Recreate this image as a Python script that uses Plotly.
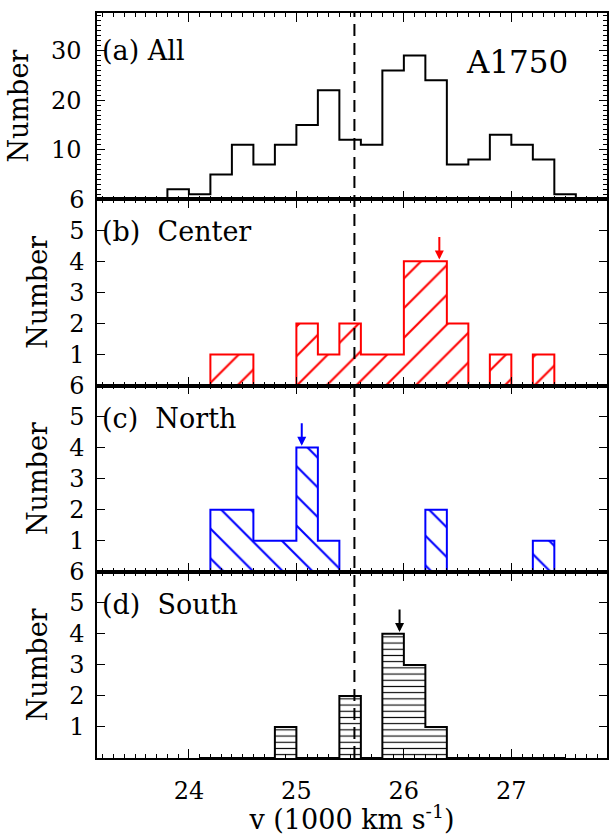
import plotly.graph_objects as go
from plotly.subplots import make_subplots

# ---------------- data ----------------
# bin centres (1000 km/s), bin width 0.2
centers_all = [23.7, 23.9, 24.1, 24.3, 24.5, 24.7, 24.9, 25.1, 25.3, 25.5, 25.7,
               25.9, 26.1, 26.3, 26.5, 26.7, 26.9, 27.1, 27.3, 27.5, 27.7]
counts_all = [0, 2, 1, 5, 11, 7, 11, 15, 22, 12, 11, 26, 29, 24, 7, 8, 13, 11, 8, 1, 0]

centers_sub = [24.1, 24.3, 24.5, 24.7, 24.9, 25.1, 25.3, 25.5, 25.7,
               25.9, 26.1, 26.3, 26.5, 26.7, 26.9, 27.1, 27.3, 27.5]
counts_center = [0, 1, 1, 0, 0, 2, 1, 2, 1, 1, 4, 4, 2, 0, 1, 0, 1, 0]
counts_north = [0, 2, 2, 1, 1, 4, 1, 0, 0, 0, 0, 2, 0, 0, 0, 0, 1, 0]
counts_south = [0, 0, 0, 0, 1, 0, 0, 2, 0, 4, 3, 1, 0, 0, 0, 0, 0, 0]

bin_width = 0.2
v_mean_all = 25.54          # dashed line
arrow_center = 26.33
arrow_north = 25.05
arrow_south = 25.96

x_tickvals = [24, 25, 26, 27]
panel_labels = ["(a) All", "(b)\u00a0 Center", "(c)\u00a0 North", "(d)\u00a0 South"]
cluster_name = "A1750"

# ---------------- figure ----------------
FONT = "DejaVu Serif"
fig = make_subplots(rows=4, cols=1, shared_xaxes=True, vertical_spacing=0)


def step_xy(c, v):
    mids = [(c[i] + c[i + 1]) / 2 for i in range(len(c) - 1)]
    xs = [c[0]] + mids + [c[-1]]
    ys = list(v) + [v[-1]]
    return xs, ys


panels = [
    (counts_all, centers_all, "black", None),
    (counts_center, centers_sub, "red", "/"),
    (counts_north, centers_sub, "blue", "\\"),
    (counts_south, centers_sub, "black", "-"),
]

for i, (cnt, cen, col, shp) in enumerate(panels, start=1):
    if shp is not None:
        size = 6.2 if shp == "-" else 21
        sol = 0.18 if shp == "-" else 0.1
        fig.add_trace(go.Bar(
            x=cen, y=cnt, width=bin_width,
            marker=dict(color=col, line=dict(width=0),
                        pattern=dict(shape=shp, fillmode="replace", fgcolor=col,
                                     fgopacity=1, bgcolor="rgba(255,255,255,0)",
                                     size=size, solidity=sol)),
            showlegend=False, hoverinfo="skip"), row=i, col=1)
    xs, ys = step_xy(cen, cnt)
    fig.add_trace(go.Scatter(x=xs, y=ys, mode="lines", line_shape="hv",
                             line=dict(color=col, width=2),
                             showlegend=False, hoverinfo="skip"), row=i, col=1)

axis_common = dict(showline=True, linecolor="black", linewidth=1.5, mirror="allticks",
                   ticks="inside", tickcolor="black", tickwidth=1.3, showgrid=False,
                   zeroline=False, automargin=False)

fig.update_xaxes(range=[23.145, 27.89], tickvals=x_tickvals, ticklen=9,
                 minor=dict(dtick=0.1, tick0=0, ticks="inside", ticklen=4,
                            tickcolor="black", tickwidth=1.2),
                 tickfont=dict(family=FONT, size=24, color="black"),
                 **axis_common)
for r in (1, 2, 3):
    fig.update_xaxes(showticklabels=False, row=r, col=1)
fig.update_xaxes(showticklabels=True, ticklabelstandoff=10,
                 title=dict(text="v (1000 km s<sup>-1</sup>)",
                            font=dict(family=FONT, size=27, color="black"),
                            standoff=14),
                 row=4, col=1)

ytitle = dict(text="Number", font=dict(family=FONT, size=27, color="black"), standoff=14)
fig.update_yaxes(range=[0, 37.6], tickvals=[10, 20, 30], ticklen=8,
                 minor=dict(dtick=1, tick0=0, ticks="inside", ticklen=4,
                            tickcolor="black", tickwidth=1.2),
                 tickfont=dict(family=FONT, size=24, color="black"),
                 ticklabelstandoff=9, title=ytitle, row=1, col=1, **axis_common)
for r in (2, 3, 4):
    fig.update_yaxes(range=[0, 6], tickvals=[1, 2, 3, 4, 5, 6], ticklen=8,
                     tickfont=dict(family=FONT, size=24, color="black"),
                     ticklabelstandoff=6, title=ytitle, row=r, col=1, **axis_common)

# dashed vertical line across all panels
fig.add_shape(type="line", xref="x", yref="paper", x0=v_mean_all, x1=v_mean_all,
              y0=0, y1=1, line=dict(color="black", width=2, dash="12px,7px"),
              layer="above")

# panel labels
label_y = [30, 4.95, 4.95, 4.95]
for i, (lab, ly) in enumerate(zip(panel_labels, label_y), start=1):
    sfx = "" if i == 1 else str(i)
    fig.add_annotation(text=lab, xref=f"x{sfx} domain", yref=f"y{sfx}", x=0.006, y=ly,
                       xanchor="left", yanchor="middle", showarrow=False,
                       font=dict(family=FONT, size=27, color="black"))

fig.add_annotation(text=cluster_name, xref="x domain", yref="y", x=0.823, y=27.8,
                   xanchor="center", yanchor="middle", showarrow=False,
                   font=dict(family=FONT, size=31, color="black"))

# arrows
for i, (xa, col) in enumerate([(arrow_center, "red"), (arrow_north, "blue"),
                               (arrow_south, "black")], start=2):
    fig.add_annotation(x=xa, y=4.06, xref=f"x{i}", yref=f"y{i}", text="",
                       showarrow=True, ax=0, ay=-24, arrowhead=2, arrowsize=0.9,
                       arrowwidth=2, arrowcolor=col, standoff=0)

fig.update_layout(width=609, height=835, margin=dict(l=97, r=2, t=13, b=77),
                  plot_bgcolor="white", paper_bgcolor="white", bargap=0,
                  barmode="overlay", showlegend=False)

fig.write_html("out.html")
